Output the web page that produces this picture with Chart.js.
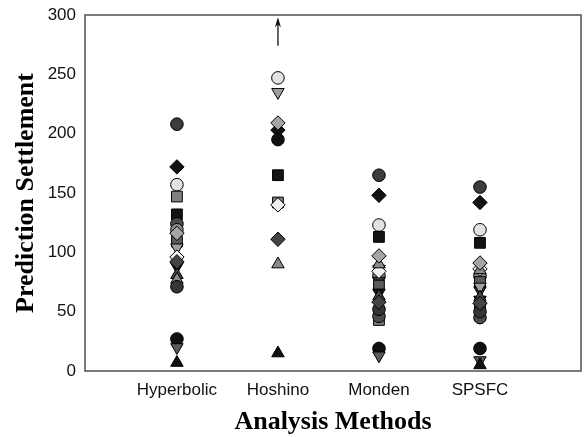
<!DOCTYPE html>
<html>
<head>
<meta charset="utf-8">
<script src="https://cdn.jsdelivr.net/npm/chart.js@4/dist/chart.umd.min.js"></script>
<style>
  html, body { margin: 0; padding: 0; background: #ffffff; }
  #wrap { width: 584px; height: 437px; }
</style>
</head>
<body>
<div id="wrap"><canvas id="c" width="584" height="437"></canvas></div>
<script>
// ---- data ----
const methods = ['Hyperbolic', 'Hoshino', 'Monden', 'SPSFC'];
const yTicks = [0, 50, 100, 150, 200, 250, 300];

const series01 = [208, null, 165, 155];
const series02 = [172, 203, 148, 142];
const series03 = [157, 247, 123, 119];
const series04 = [147, 142, 43, 53];
const series05 = [132, 165, 113, 108];
const series06 = [124, null, 46, 45];
const series07 = [119, null, 80, 80];
const series08 = [113, null, 76, 68];
const series09 = [109, null, 72, 75];
const series10 = [104, 235, 86, 71];
const series11 = [96, 140, 84, 86];
const series12 = [88, null, 66, 60];
const series13 = [81, null, 63, 62];
const series14 = [77, 90, 90, 85];
const series15 = [71, null, 52, 50];
const series16 = [27, 195, 19, 19];
const series17 = [20, null, 13, 9];
const series18 = [7, 15, null, 5];
const series19 = [116, 209, 97, 91];
const series20 = [92, 111, 58, 57];

// off-scale value indicator (arrow) for Hoshino
const arrowMethod = ['Hoshino'];
const arrowRange = [274, 298];

const allSeries = [series01, series02, series03, series04, series05, series06, series07,
  series08, series09, series10, series11, series12, series13, series14, series15,
  series16, series17, series18, series19, series20];

// ---- styles ----
const shapes = ['circle', 'rectRot', 'circle', 'rect', 'rect', 'circle', 'circle',
  'triDown', 'rect', 'triDown', 'rectRot', 'triDown', 'triangle', 'triangle', 'circle',
  'circle', 'triDown', 'triangle', 'rectRot', 'rectRot'];
const fills = ['#3c3c3c', '#121212', '#e2e2e2', '#808080', '#141414', '#4b4b4b', '#8c8c8c',
  '#3a3a3a', '#5c5c5c', '#a0a0a0', '#efefef', '#151515', '#454545', '#8a8a8a', '#353535',
  '#101010', '#5a5a5a', '#101010', '#a5a5a5', '#444444'];

function radiusFor(shape) {
  if (shape === 'circle') return 6.3;
  if (shape === 'rect') return 7.6;
  if (shape === 'rectRot') return 7.2;
  return 7.2;
}

const datasets = allSeries.map((vals, i) => {
  const sh = shapes[i];
  return {
    label: 'S' + (i + 1),
    data: vals.map((v, j) => (v === null ? null : { x: j + 1, y: v })).filter(p => p),
    pointStyle: sh === 'triDown' ? 'triangle' : sh,
    rotation: sh === 'triDown' ? 180 : 0,
    pointRadius: radiusFor(sh),
    pointHoverRadius: radiusFor(sh),
    backgroundColor: fills[i],
    borderColor: '#000000',
    borderWidth: 1,
    showLine: false,
    order: -i
  };
});

const framePlugin = {
  id: 'frame',
  afterDatasetsDraw(chart) {
    const { ctx, chartArea: a, scales } = chart;
    ctx.save();
    ctx.strokeStyle = '#5a5a5a';
    ctx.lineWidth = 1.6;
    ctx.strokeRect(a.left, a.top, a.right - a.left, a.bottom - a.top);
    // arrow for off-scale values
    const xi = methods.indexOf(arrowMethod[0]) + 1;
    const px = scales.x.getPixelForValue(xi);
    const y0 = scales.y.getPixelForValue(arrowRange[0]);
    const y1 = scales.y.getPixelForValue(arrowRange[1]);
    ctx.strokeStyle = '#111';
    ctx.fillStyle = '#111';
    ctx.lineWidth = 1.3;
    ctx.beginPath();
    ctx.moveTo(px, y0);
    ctx.lineTo(px, y1 + 4);
    ctx.stroke();
    ctx.beginPath();
    ctx.moveTo(px, y1);
    ctx.lineTo(px - 3, y1 + 10);
    ctx.lineTo(px, y1 + 7);
    ctx.lineTo(px + 3, y1 + 10);
    ctx.closePath();
    ctx.fill();
    ctx.restore();
  }
};

function zeroPadding(scale) {
  scale.paddingTop = 0;
  scale.paddingBottom = 0;
  scale.paddingLeft = 0;
  scale.paddingRight = 0;
}

new Chart(document.getElementById('c'), {
  type: 'scatter',
  data: { datasets },
  options: {
    responsive: false,
    animation: false,
    devicePixelRatio: 1,
    layout: { autoPadding: false, padding: { top: 15, right: 3, left: 0, bottom: 0 } },
    plugins: { legend: { display: false }, tooltip: { enabled: false } },
    scales: {
      x: {
        type: 'linear',
        min: 0.09,
        max: 5.0,
        afterBuildTicks(scale) { scale.ticks = methods.map((m, i) => ({ value: i + 1 })); },
        afterFit(scale) { scale.height = 66; zeroPadding(scale); },
        grid: { display: false, drawTicks: false },
        border: { display: false },
        ticks: {
          autoSkip: false,
          maxRotation: 0,
          padding: 9,
          color: '#111',
          font: { family: 'Liberation Sans, Arial, sans-serif', size: 17 },
          callback: (v) => methods[Math.round(v) - 1] || ''
        },
        title: {
          display: true,
          text: 'Analysis Methods',
          color: '#000',
          font: { family: 'Liberation Serif, Times New Roman, serif', size: 26, weight: 'bold', lineHeight: 1 },
          padding: { top: 0, bottom: 2 }
        }
      },
      y: {
        type: 'linear',
        min: 0,
        max: 300,
        afterBuildTicks(scale) { scale.ticks = yTicks.map(v => ({ value: v })); },
        afterFit(scale) { scale.width = 85; zeroPadding(scale); },
        grid: { display: false, drawTicks: false },
        border: { display: false },
        ticks: {
          padding: 9,
          color: '#111',
          font: { family: 'Liberation Sans, Arial, sans-serif', size: 17 }
        },
        title: {
          display: true,
          text: 'Prediction Settlement',
          color: '#000',
          font: { family: 'Liberation Serif, Times New Roman, serif', size: 26, weight: 'bold', lineHeight: 1 },
          padding: { top: 13, bottom: 0 }
        }
      }
    }
  },
  plugins: [framePlugin]
});
</script>
</body>
</html>
